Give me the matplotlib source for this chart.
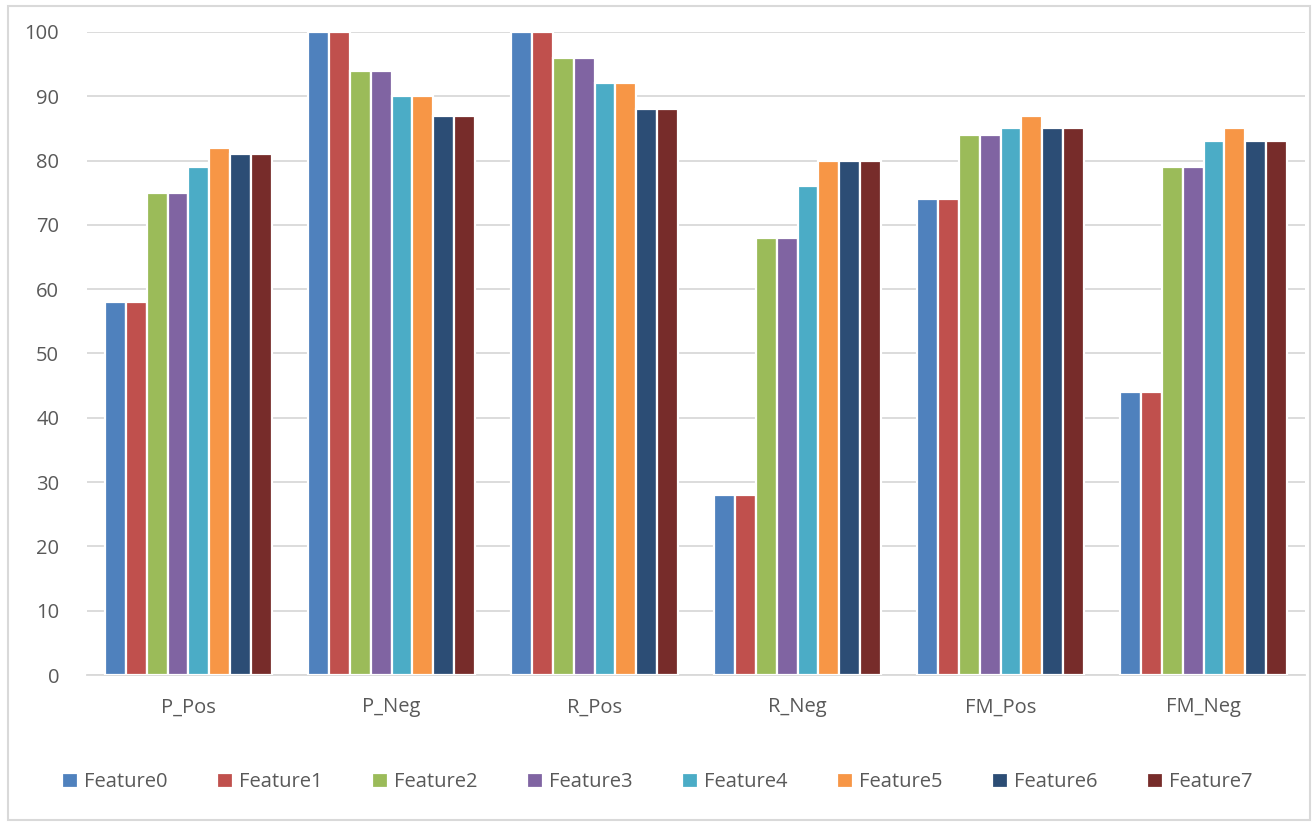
import matplotlib
matplotlib.use('Agg')
from matplotlib import pyplot as plt
from matplotlib.patches import Rectangle
import numpy as np

metrics = ['P_Pos', 'P_Neg', 'R_Pos', 'R_Neg', 'FM_Pos', 'FM_Neg']
features = ['Feature0', 'Feature1', 'Feature2', 'Feature3',
            'Feature4', 'Feature5', 'Feature6', 'Feature7']

feature0 = [58, 100, 100, 28, 74, 44]
feature1 = [58, 100, 100, 28, 74, 44]
feature2 = [75, 94, 96, 68, 84, 79]
feature3 = [75, 94, 96, 68, 84, 79]
feature4 = [79, 90, 92, 76, 85, 83]
feature5 = [82, 90, 92, 80, 87, 85]
feature6 = [81, 87, 88, 80, 85, 83]
feature7 = [81, 87, 88, 80, 85, 83]

colors = ['#4F81BD', '#C0504D', '#9BBB59', '#8064A2',
          '#4BACC6', '#F79646', '#2C4D75', '#772C2A']

plt.rcParams['font.family'] = ['Open Sans', 'DejaVu Sans']
text_color = '#595959'
grid_color = '#D9D9D9'

fig = plt.figure(figsize=(13.14, 8.26), dpi=100)
ax = fig.add_axes([0.0662, 0.1828, 0.927, 0.7785])

series = [feature0, feature1, feature2, feature3,
          feature4, feature5, feature6, feature7]
x = np.arange(len(metrics))
group_w = 0.82
bar_w = group_w / len(series)
for i, (vals, name, c) in enumerate(zip(series, features, colors)):
    offs = -group_w / 2 + bar_w * (i + 0.5)
    ax.bar(x + offs, vals, width=bar_w, color=c, label=name,
           edgecolor='white', linewidth=1.6, zorder=3)

ax.set_xlim(-0.5, len(metrics) - 0.5)
ax.set_ylim(0, 100)
ax.set_yticks(np.arange(0, 101, 10))
ax.yaxis.grid(True, color=grid_color, linewidth=1.3, zorder=0)
ax.set_xticks(x)
ax.set_xticklabels(metrics)
for s in ['top', 'right', 'left']:
    ax.spines[s].set_visible(False)
ax.spines['bottom'].set_color(grid_color)
ax.spines['bottom'].set_linewidth(1.3)
ax.tick_params(axis='both', length=0, colors=text_color, labelsize=14.5)
ax.tick_params(axis='y', pad=20)
ax.tick_params(axis='x', pad=16)

fig.legend(loc='center', bbox_to_anchor=(0.5, 0.053), ncol=8, frameon=False,
           fontsize=14.5, labelcolor=text_color, handlelength=0.8,
           handleheight=0.8, handletextpad=0.3, columnspacing=2.45)

# thin frame around the whole chart
fig.patches.append(Rectangle((0.006, 0.007), 0.991, 0.986, transform=fig.transFigure,
                             fill=False, edgecolor=grid_color, linewidth=1.5))

fig.savefig('out.png', dpi=100)
plt.close()
